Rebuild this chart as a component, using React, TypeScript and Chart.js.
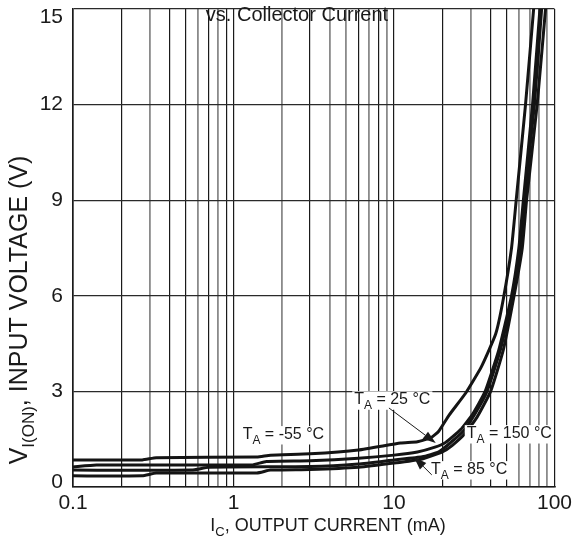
import React, { useEffect, useRef } from "react";
import { Chart, registerables } from "chart.js";

Chart.register(...registerables);

const FONT = '"Liberation Sans", Arial, Helvetica, sans-serif';

// Output current (mA) / input voltage (V) curves
const CURVE_T: [number, number][] = [
  [0.1, 0.85], [0.27, 0.85], [0.33, 0.92], [1.4, 0.94], [1.7, 1.0], [3, 1.04], [6, 1.16],
  [11, 1.38], [14, 1.42], [17, 1.55], [19, 1.75], [22, 2.25], [28, 2.95], [35, 3.77],
  [43, 4.8], [48, 5.9], [54, 7.5], [58, 9.1], [66, 12], [75, 15.3],
];
const CURVE_B: [number, number][] = [
  [0.1, 0.63], [0.14, 0.69], [1.3, 0.69], [1.6, 0.8], [3, 0.82], [6, 0.9], [10, 1.0],
  [14, 1.1], [18, 1.25], [21, 1.4], [26, 1.8], [31, 2.3], [37, 3.0], [45, 4.3], [54, 6],
  [60, 7.5], [64, 9], [73, 12], [82, 15.3],
];
const CURVE_C: [number, number][] = [
  [0.1, 0.53], [0.55, 0.53], [0.7, 0.62], [3, 0.64], [6, 0.72], [10, 0.85], [15, 0.95],
  [19, 1.1], [22, 1.35], [27, 1.75], [32, 2.3], [38, 3.0], [46, 4.3], [55, 6], [61, 7.5],
  [65, 9], [75, 12], [84, 15.3],
];
const CURVE_D: [number, number][] = [
  [0.1, 0.35], [0.27, 0.35], [0.33, 0.44], [1.4, 0.44], [1.7, 0.53], [3, 0.55], [6, 0.62],
  [10, 0.75], [15, 0.88], [20, 1.1], [23, 1.3], [28, 1.7], [33, 2.2], [40, 3.0], [48, 4.3],
  [56, 6], [63, 7.5], [67, 9], [78, 12], [89, 15.3],
];

const X_GRID = [
  0.1, 0.2, 0.3, 0.4, 0.5, 0.6, 0.7, 0.8, 0.9,
  1, 2, 3, 4, 5, 6, 7, 8, 9,
  10, 20, 30, 40, 50, 60, 70, 80, 90, 100,
];
const X_GRAY = [0.1, 0.3, 0.6, 0.8, 2, 4, 5, 7, 9, 30, 60, 70, 80, 90];
const X_MAJOR = [0.1, 1, 10, 100];
const X_LABELS = ["0.1", "1", "10", "100"];
const Y_TICKS = [0, 3, 6, 9, 12, 15];

const TITLE = "vs. Collector Current";
const X_TITLE = [{ t: "I" }, { t: "C", sub: true }, { t: ", OUTPUT CURRENT (mA)" }];
const Y_TITLE = [{ t: "V" }, { t: "I(ON)", sub: true }, { t: ", INPUT VOLTAGE (V)" }];

// labels: left edge current (mA), baseline voltage (V)
const LABELS = [
  { temp: " = 25 °C", x: 5.65, y: 2.6 },
  { temp: " = -55 °C", x: 1.14, y: 1.51 },
  { temp: " = 150 °C", x: 28.4, y: 1.54 },
  { temp: " = 85 °C", x: 17, y: 0.41 },
];
// arrows: from (x1,y1) to tip (x2,y2), data coords
const ARROWS = [
  { x1: 9.3, y1: 2.48, x2: 18.2, y2: 1.38 },
  { x1: 17.2, y1: 0.38, x2: 13.3, y2: 0.94 },
];

type Part = { t: string; sub?: boolean };

function measureRich(ctx: CanvasRenderingContext2D, parts: Part[], size: number, subScale: number) {
  let w = 0;
  for (const p of parts) {
    ctx.font = `${p.sub ? Math.round(size * subScale) : size}px ${FONT}`;
    w += ctx.measureText(p.t).width;
  }
  return w;
}

function drawRich(
  ctx: CanvasRenderingContext2D,
  parts: Part[],
  x: number,
  y: number,
  size: number,
  align: "left" | "center",
  subScale = 0.72,
  subShift = 0.3
) {
  const total = measureRich(ctx, parts, size, subScale);
  let cx = align === "center" ? x - total / 2 : x;
  ctx.textAlign = "left";
  ctx.textBaseline = "alphabetic";
  for (const p of parts) {
    ctx.font = `${p.sub ? Math.round(size * subScale) : size}px ${FONT}`;
    ctx.fillText(p.t, cx, p.sub ? y + size * subShift : y);
    cx += ctx.measureText(p.t).width;
  }
  return total;
}

const decorPlugin = {
  id: "decor",
  afterDraw(chart: any) {
    const ctx: CanvasRenderingContext2D = chart.ctx;
    const xs = chart.scales.x;
    const ys = chart.scales.y;
    ctx.save();
    ctx.fillStyle = "#1a1a1a";

    // title
    ctx.font = `20px ${FONT}`;
    ctx.textAlign = "center";
    ctx.textBaseline = "alphabetic";
    ctx.fillText(TITLE, 297, 21);

    // x title
    drawRich(ctx, X_TITLE, 328, 531, 18, "center");

    // y title
    ctx.save();
    ctx.translate(27, 310);
    ctx.rotate(-Math.PI / 2);
    drawRich(ctx, Y_TITLE, 0, 0, 25, "center", 0.66, 0.26);
    ctx.restore();

    // labels
    const size = 16;
    for (const l of LABELS) {
      const px = xs.getPixelForValue(l.x);
      const py = ys.getPixelForValue(l.y);
      const parts: Part[] = [{ t: "T" }, { t: "A", sub: true }, { t: l.temp }];
      const w = measureRich(ctx, parts, size, 0.72);
      ctx.fillStyle = "#ffffff";
      ctx.fillRect(px - 2, py - size * 0.8, w + 4, size * 1.15);
      ctx.fillStyle = "#1a1a1a";
      drawRich(ctx, parts, px, py, size, "left");
    }

    // arrows
    ctx.strokeStyle = "#1a1a1a";
    ctx.lineWidth = 1;
    for (const a of ARROWS) {
      const x1 = xs.getPixelForValue(a.x1);
      const y1 = ys.getPixelForValue(a.y1);
      const x2 = xs.getPixelForValue(a.x2);
      const y2 = ys.getPixelForValue(a.y2);
      const ang = Math.atan2(y2 - y1, x2 - x1);
      const len = 13;
      const hw = 4.5;
      const bx = x2 - len * Math.cos(ang);
      const by = y2 - len * Math.sin(ang);
      ctx.beginPath();
      ctx.moveTo(x1, y1);
      ctx.lineTo(bx, by);
      ctx.stroke();
      ctx.beginPath();
      ctx.moveTo(x2, y2);
      ctx.lineTo(bx + hw * Math.sin(ang), by - hw * Math.cos(ang));
      ctx.lineTo(bx - hw * Math.sin(ang), by + hw * Math.cos(ang));
      ctx.closePath();
      ctx.fill();
    }
    ctx.restore();
  },
};

export default function App() {
  const ref = useRef<HTMLCanvasElement | null>(null);
  useEffect(() => {
    document.body.style.margin = "0";
    const canvas = ref.current!;
    const mk = (pts: [number, number][]) => ({
      data: pts.map(([x, y]) => ({ x, y })),
      borderColor: "#141414",
      borderWidth: 3,
      pointRadius: 0,
      tension: 0.15,
      fill: false,
    });
    const yMax = Y_TICKS[Y_TICKS.length - 1];
    const yMin = Y_TICKS[0];
    const chart = new Chart(canvas, {
      type: "line",
      data: { datasets: [mk(CURVE_T), mk(CURVE_B), mk(CURVE_C), mk(CURVE_D)] as any },
      options: {
        animation: false,
        responsive: false,
        devicePixelRatio: 1,
        layout: { padding: { left: 0, right: 20, top: 9, bottom: 0 } },
        plugins: { legend: { display: false }, tooltip: { enabled: false }, title: { display: false } },
        scales: {
          x: {
            type: "logarithmic",
            min: 0.1,
            max: 100,
            afterBuildTicks: (scale: any) => {
              scale.ticks = X_GRID.map((v) => ({ value: v }));
            },
            afterFit: (scale: any) => {
              scale.height = 53;
            },
            ticks: {
              autoSkip: false,
              maxRotation: 0,
              padding: 4,
              color: "#1a1a1a",
              font: { family: FONT, size: 21 },
              callback: (value: any) => {
                const i = X_MAJOR.indexOf(Number(value));
                return i >= 0 ? X_LABELS[i] : "";
              },
            },
            grid: {
              drawTicks: false,
              color: (c: any) => (X_GRAY.includes(c.tick?.value) ? "#8a8a8a" : "#1a1a1a"),
              lineWidth: (c: any) => (X_GRAY.includes(c.tick?.value) ? 1.8 : 1.2),
            },
            border: { color: "#1a1a1a", width: 1.5 },
          },
          y: {
            type: "linear",
            min: yMin,
            max: yMax,
            afterBuildTicks: (scale: any) => {
              scale.ticks = Y_TICKS.map((v) => ({ value: v }));
            },
            afterFit: (scale: any) => {
              scale.width = 73;
              scale.paddingTop = 0;
              scale.paddingBottom = 0;
            },
            ticks: {
              padding: 10,
              color: "#1a1a1a",
              font: (c: any) => {
                const v = c.tick?.value;
                return {
                  family: FONT,
                  size: 21,
                  lineHeight: v === yMax ? 0.75 : v === yMin ? 0.5 : 1.2,
                };
              },
              callback: (value: any) => {
                const v = Number(value);
                if (v === yMax) return ["", String(v)];
                if (v === yMin) return [String(v), ""];
                return String(v);
              },
            },
            grid: { drawTicks: false, color: "#2a2a2a", lineWidth: 1.3 },
            border: { color: "#1a1a1a", width: 1.5 },
          },
        },
      },
      plugins: [decorPlugin],
    });
    return () => chart.destroy();
  }, []);
  return <canvas ref={ref} width={576} height={540} style={{ display: "block" }} />;
}
